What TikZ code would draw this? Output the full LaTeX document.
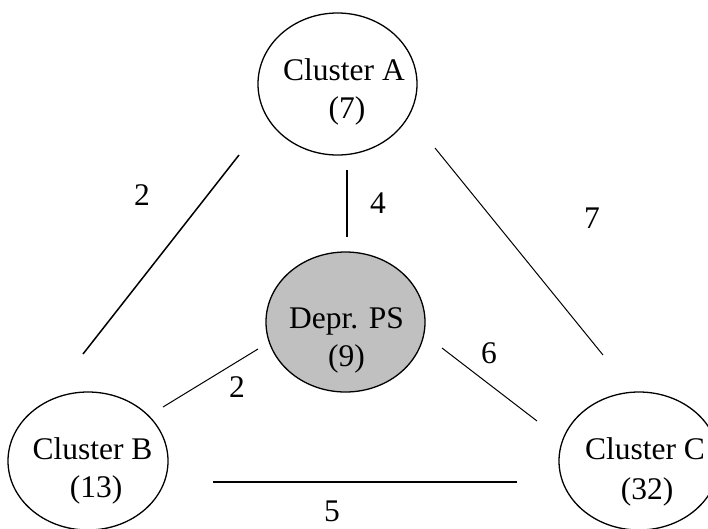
\documentclass[tikz,border=0pt]{standalone}
\usepackage{fontspec}
\setmainfont{Liberation Serif}
\usetikzlibrary{shapes.geometric}
\definecolor{silver}{RGB}{192,192,192}
\begin{document}
\begin{tikzpicture}[x=1pt,y=-1pt,
  cl/.style={draw, ellipse, line width=1.3pt, inner sep=0pt},
  txt/.style={font=\fontsize{31.5}{36}\selectfont, anchor=base, inner sep=0pt},
  num/.style={font=\fontsize{31.5}{36}\selectfont, inner sep=0pt},
  thick edge/.style={line width=1.5pt},
  thin edge/.style={line width=1.0pt}]
\useasboundingbox (0,0) rectangle (708,528);
\node[cl, minimum width=159pt, minimum height=142pt] (A) at (337.5,84) {};
\node[cl, fill=silver, minimum width=159pt, minimum height=140pt] (D) at (345.5,322) {};
\node[cl, minimum width=160pt, minimum height=138pt] (B) at (88,461) {};
\node[cl, minimum width=160pt, minimum height=138pt] (C) at (639,461) {};
\node[txt] (At1) at (344,80) {Cluster A};
\node[txt] (At2) at (347,118) {(7)};
\node[txt] (Dt1) at (346.5,328) {Depr. PS};
\node[txt] (Dt2) at (346.5,366) {(9)};
\node[txt] (Bt1) at (92.5,459) {Cluster B};
\node[txt] (Bt2) at (96,497) {(13)};
\node[txt] (Ct1) at (645,459) {Cluster C};
\node[txt] (Ct2) at (647,499) {(32)};
\coordinate (ab1) at (239,155); \coordinate (ab2) at (83,354);
\coordinate (ad1) at (347,170); \coordinate (ad2) at (347,237);
\coordinate (ac1) at (435,148); \coordinate (ac2) at (603,355);
\coordinate (db1) at (258,349); \coordinate (db2) at (163,407);
\coordinate (dc1) at (442,348); \coordinate (dc2) at (537,421);
\coordinate (bc1) at (213,482); \coordinate (bc2) at (517,482);
\draw[thick edge] (ab1) -- (ab2);
\draw[thick edge] (ad1) -- (ad2);
\draw[thin edge] (ac1) -- (ac2);
\draw[thin edge] (db1) -- (db2);
\draw[thin edge] (dc1) -- (dc2);
\draw[thick edge] (bc1) -- (bc2);
\node[num] (l1) at (142,195) {2};
\node[num] (l2) at (378,203) {4};
\node[num] (l3) at (592,218) {7};
\node[num] (l4) at (489,353) {6};
\node[num] (l5) at (237,387) {2};
\node[num] (l6) at (332,511) {5};
\end{tikzpicture}
\end{document}
